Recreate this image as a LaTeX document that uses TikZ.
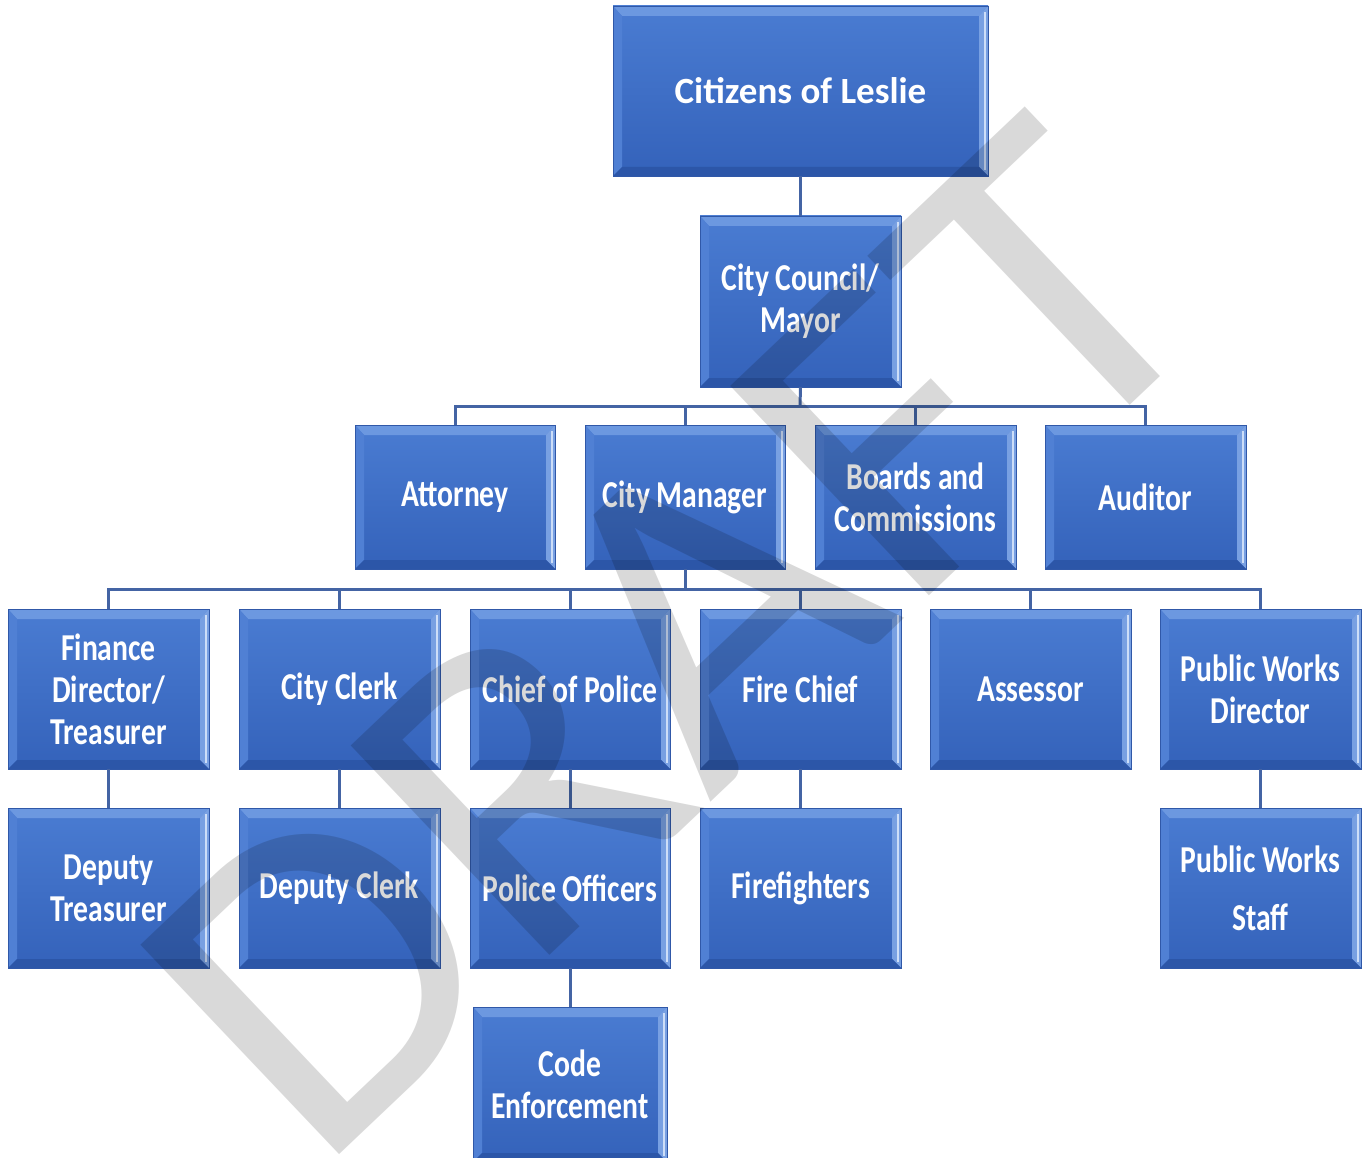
\documentclass[tikz,border=0pt]{standalone}
\usepackage{graphicx}
\usepackage{fontspec}
\setmainfont{Carlito}
\newfontfamily\condbold{Carlito Bold}[FakeStretch=0.78]
\newfontfamily\widebold{Carlito Bold}
\newfontfamily\wmfont{Carlito}
\definecolor{boxfill}{RGB}{58,106,196}
\definecolor{boxtop}{RGB}{74,124,210}
\definecolor{boxbot}{RGB}{52,98,186}
\definecolor{bevtop}{RGB}{108,152,224}
\definecolor{bevleft}{RGB}{80,128,212}
\definecolor{bevright}{RGB}{120,160,226}
\definecolor{bevhi}{RGB}{205,222,248}
\definecolor{bevbot}{RGB}{44,86,168}
\definecolor{boxborder}{RGB}{48,88,168}
\definecolor{linkcol}{RGB}{68,100,164}
\tikzset{
  x=1pt,y=-1pt,
  orgbox/.style={rectangle, draw=boxborder, line width=0.8pt,
    top color=boxtop, bottom color=boxbot,
    text=white, align=center, inner sep=0pt, outer sep=0pt,
    font=\condbold\fontsize{38}{42}\selectfont,
    path picture={
      \fill[bevtop] (path picture bounding box.north west) -- (path picture bounding box.north east)
        -- ([xshift=-9pt,yshift=-10pt]path picture bounding box.north east)
        -- ([xshift=9pt,yshift=-10pt]path picture bounding box.north west) -- cycle;
      \fill[bevleft] (path picture bounding box.north west) -- ([xshift=9pt,yshift=-10pt]path picture bounding box.north west)
        -- ([xshift=9pt,yshift=9pt]path picture bounding box.south west)
        -- (path picture bounding box.south west) -- cycle;
      \fill[bevright] (path picture bounding box.north east) -- ([xshift=-9pt,yshift=-10pt]path picture bounding box.north east)
        -- ([xshift=-9pt,yshift=9pt]path picture bounding box.south east)
        -- (path picture bounding box.south east) -- cycle;
      \fill[bevbot] (path picture bounding box.south west) -- ([xshift=9pt,yshift=9pt]path picture bounding box.south west)
        -- ([xshift=-9pt,yshift=9pt]path picture bounding box.south east)
        -- (path picture bounding box.south east) -- cycle;
      \draw[bevhi, line width=2pt] ([xshift=-3pt,yshift=-6pt]path picture bounding box.north east)
        -- ([xshift=-3pt,yshift=6pt]path picture bounding box.south east);
    }},
  link/.style={draw=linkcol, line width=3pt},
  wm/.style={text=black, opacity=0.15, font=\wmfont\fontsize{450}{450}\selectfont, inner sep=0pt},
}
\newcommand{\bx}[6]{%
  \node[orgbox, minimum width={#4-#2}, minimum height={#5-#3}] (#1) at ({(#2+#4)/2},{(#3+#5)/2}) {#6};}
\begin{document}
\begin{tikzpicture}
\clip (0,0) rectangle (1367,1158);
\fill[white] (0,0) rectangle (1367,1158);
% boxes
\node[orgbox, font=\widebold\fontsize{37}{42}\selectfont, minimum width=375pt, minimum height=170pt] (citizens) at (800.5,91) {Citizens of Leslie};
\bx{council}{700}{216}{901}{387}{City Council/\\Mayor}
\bx{att}{355}{425}{555}{569}{Attorney}
\bx{cm}{585}{425}{785}{569}{City Manager}
\bx{boards}{815}{425}{1016}{569}{Boards and\\Commissions}
\bx{aud}{1045}{425}{1246}{569}{Auditor}
\bx{fin}{8}{609}{209}{769}{Finance\\Director/\\Treasurer}
\bx{clerk}{239}{609}{440}{769}{City Clerk}
\bx{cop}{470}{609}{670}{769}{Chief of Police}
\bx{fire}{700}{609}{901}{769}{Fire Chief}
\bx{assess}{930}{609}{1131}{769}{Assessor}
\bx{pwd}{1160}{609}{1361}{769}{Public Works\\Director}
\bx{deptreas}{8}{808}{209}{968}{Deputy\\Treasurer}
\bx{depclerk}{239}{808}{440}{968}{Deputy Clerk}
\bx{po}{470}{808}{670}{968}{Police Officers}
\bx{ff}{700}{808}{901}{968}{Firefighters}
\bx{pws}{1160}{808}{1361}{968}{Public Works\\[16pt]Staff}
\bx{code}{473}{1007}{667}{1162}{Code\\Enforcement}
% connectors
\coordinate (bar1) at (800,406);
\coordinate (bar2) at (685,589);
\draw[link] (citizens.south) -- (council.north);
\draw[link] (council.south) -- (bar1);
\foreach \c in {att,cm,boards,aud} \draw[link] (\c.north) |- (bar1);
\draw[link] (cm.south) -- (bar2);
\foreach \c in {fin,clerk,cop,fire,assess,pwd} \draw[link] (\c.north) |- (bar2);
\draw[link] (fin.south) -- (deptreas.north);
\draw[link] (clerk.south) -- (depclerk.north);
\draw[link] (cop.south) -- (po.north);
\draw[link] (po.south) -- (code.north);
\draw[link] (fire.south) -- (ff.north);
\draw[link] (pwd.south) -- (pws.north);
% watermark
\node[wm, rotate=43.5] (draft) at (673,640) {\scalebox{1.04}[1]{DRAFT}};
\end{tikzpicture}
\end{document}
